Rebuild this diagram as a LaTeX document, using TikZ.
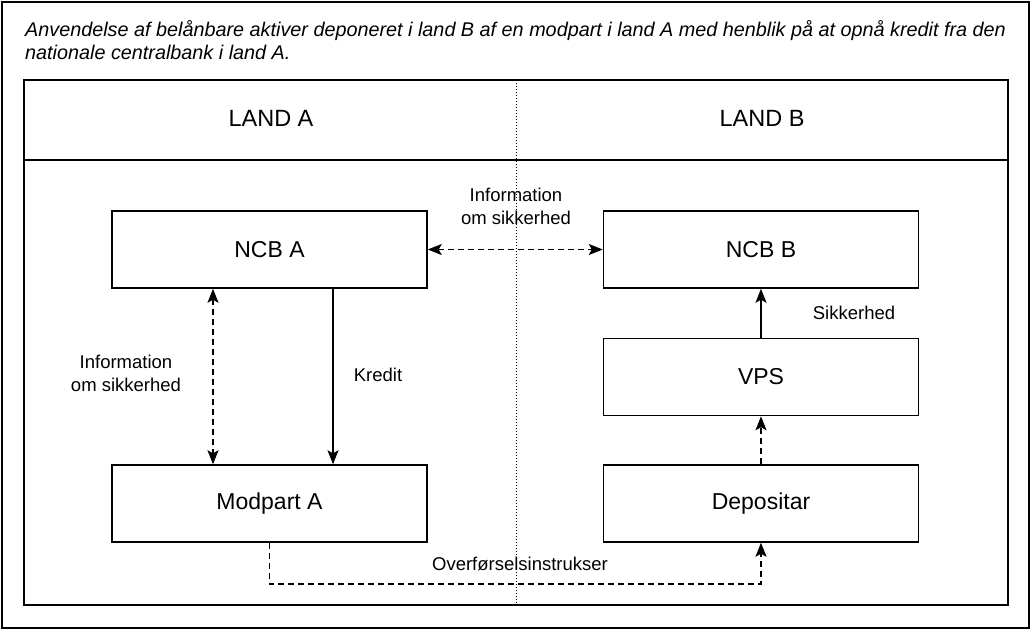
\documentclass[tikz,border=0pt]{standalone}
\usepackage{fontspec}
\setmainfont{Liberation Sans}
\usetikzlibrary{arrows.meta}
\begin{document}
\begin{tikzpicture}[x=1pt,y=-1pt,
  box/.style={draw, line width=1.5pt, minimum width=315pt, minimum height=77pt, inner sep=0pt, font=\fontsize{23}{27}\selectfont},
  lbl/.style={font=\fontsize{18.5}{23}\selectfont, align=center, inner sep=0pt},
  hdr/.style={font=\fontsize{23.5}{27}\selectfont, inner sep=0pt},
  ttl/.style={font=\fontsize{19.8}{23}\selectfont\itshape, inner sep=0pt, anchor=base west},
  tip/.style={Stealth[length=14pt,width=11pt,inset=3pt]},
  arr/.style={line width=1.3pt, -{Stealth[length=14pt,width=11pt,inset=3pt]}},
  darr/.style={arr, dash pattern=on 6pt off 4pt},
  dbl/.style={darr, {Stealth[length=14pt,width=11pt,inset=3pt]}-{Stealth[length=14pt,width=11pt,inset=3pt]}},
  frame/.style={line width=1.6pt}]
\useasboundingbox (0,0) rectangle (1032,630);
\draw[line width=2pt] (1.5,1.5) rectangle (1029,628);
% title
\node[ttl] (t1) at (25,36) {Anvendelse af belånbare aktiver deponeret i land B af en modpart i land A med henblik på at opnå kredit fra den};
\node[ttl] (t2) at (25,59) {nationale centralbank i land A.};
% frame
\draw[frame] (24,80) rectangle (1008,605);
\draw[frame] (24,160) -- (1008,160);
\draw[line width=1pt, dotted] (516,80) -- (516,605);
\node[hdr] (landa) at (271,118) {LAND A};
\node[hdr] (landb) at (762,118) {LAND B};
% boxes
\node[box] (ncba) at (269.5,249.5) {NCB A};
\node[box] (ncbb) at (761,249.5) {NCB B};
\node[box] (vps) at (761,377) {VPS};
\node[box] (modp) at (269.5,503.5) {Modpart A};
\node[box] (dep) at (761,503.5) {Depositar};
% connectors
\draw[dbl] (ncba.east) -- (ncbb.west);
\coordinate (dx) at (213,0);
\coordinate (kx) at (333,0);
\draw[dbl] (ncba.south -| dx) -- (modp.north -| dx);
\draw[arr] (ncba.south -| kx) -- (modp.north -| kx);
\draw[arr] (vps.north) -- (ncbb.south);
\draw[darr] (dep.north) -- (vps.south);
\coordinate (yb) at (516,584);
\draw[darr] (modp.south) |- (yb) -| (dep.south);
% labels
\node[lbl] (l1) at (516,206) {Information\\om sikkerhed};
\node[lbl] (l2) at (126,373) {Information\\om sikkerhed};
\node[lbl] (l3) at (378,375) {Kredit};
\node[lbl] (l4) at (854,313) {Sikkerhed};
\node[lbl] (l5) at (520,564) {Overførselsinstrukser};
\end{tikzpicture}
\end{document}
